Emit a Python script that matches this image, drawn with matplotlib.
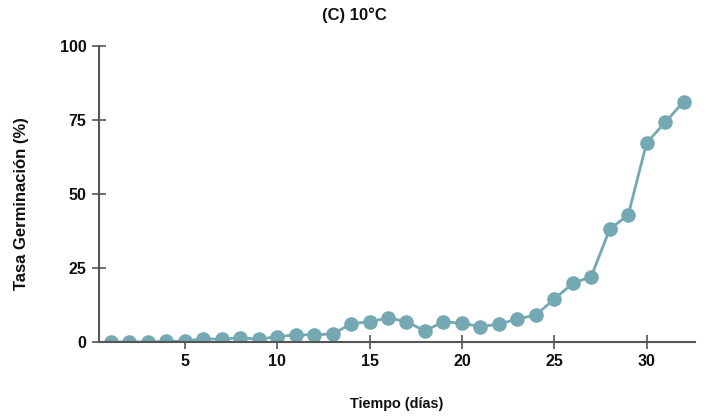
import matplotlib
matplotlib.use("Agg")
import matplotlib.pyplot as plt

plt.rcParams['font.family'] = ['Liberation Sans', 'DejaVu Sans']

dias = list(range(1, 33))
germinacion = [0, 0, 0, 0.2, 0.3, 1.1, 0.9, 1.5, 0.9, 1.8, 2.4, 2.4, 2.7, 6.1, 6.9, 8.1,
               6.9, 3.7, 6.9, 6.3, 5.2, 6.0, 7.8, 9.1, 14.5, 19.8, 22.1, 38.1, 42.9,
               67.3, 74.2, 81.2]
xticks = [5, 10, 15, 20, 25, 30]
yticks = [0, 25, 50, 75, 100]

color = '#74A8B2'
axcol = '#555555'
txtcol = '#111111'

fig = plt.figure(figsize=(7.06, 4.19), dpi=100)
ax = fig.add_axes([0.140, 0.1838, 0.844, 0.7064])
ax.plot(dias, germinacion, color=color, lw=2, marker='o', markersize=10.5,
        markeredgewidth=0)
ax.set_xlim(0.35, 32.6)
ax.set_ylim(0, 100)
ax.set_xticks(xticks)
ax.set_yticks(yticks)
for s in ['top', 'right']:
    ax.spines[s].set_visible(False)
for s in ['left', 'bottom']:
    ax.spines[s].set_color(axcol)
    ax.spines[s].set_linewidth(1.5)
ax.tick_params(direction='inout', length=10, width=1.2, color=axcol,
               labelsize=11.5, labelcolor=txtcol, pad=4)
for lab in ax.get_xticklabels() + ax.get_yticklabels():
    lab.set_fontweight('bold')
fig.text(0.562, 0.036, 'Tiempo (días)', ha='center', va='center', fontsize=10.4,
         fontweight='bold', color=txtcol)
fig.text(0.031, 0.515, 'Tasa Germinación (%)', ha='center', va='center', rotation=90,
         fontsize=12, fontweight='bold', color=txtcol)
fig.text(0.502, 0.964, '(C) 10°C', ha='center', va='center', fontsize=12,
         fontweight='bold', color=txtcol)
fig.savefig('out.png', dpi=100)
